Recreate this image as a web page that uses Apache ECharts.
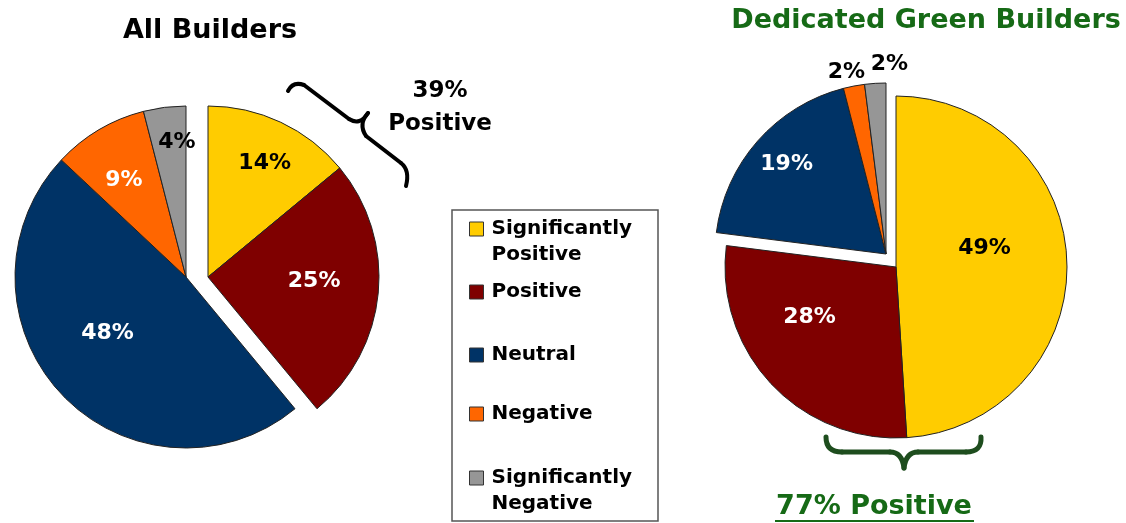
<!DOCTYPE html>
<html><head><meta charset="utf-8">
<script src="https://cdn.jsdelivr.net/npm/echarts@6/dist/echarts.min.js"></script>
<style>html,body{margin:0;padding:0;background:#fff}#c{width:1126px;height:523px}</style>
</head><body><div id="c"></div>
<script>
// ---- data ----
const categories = ['Significantly Positive', 'Positive', 'Neutral', 'Negative', 'Significantly Negative'];
const legendLabels = ['Significantly\nPositive', 'Positive', 'Neutral', 'Negative', 'Significantly\nNegative'];
const allBuilders = [14, 25, 48, 9, 4];
const greenBuilders = [49, 28, 19, 2, 2];
const allExploded = [0, 1];
const greenExploded = [2, 3, 4];
const titles = ['All Builders', 'Dedicated Green Builders'];
const noteAll = '39%\nPositive';
const noteGreen = '77% Positive';

// ---- styles ----
const FONT = 'DejaVu Sans';
const colors = ['#FFCC00', '#7F0000', '#003366', '#FF6600', '#969696'];
const labelColorsAll = ['#000', '#fff', '#fff', '#fff', '#000'];
const labelColorsGreen = ['#000', '#fff', '#fff', '#000', '#000'];
const labelShiftAll = [[19, -34], [18, -4], [-14, -4], [-17, -21], [2, -47]];
const labelShiftGreen = [[0, -16], [-22, -10], [-33, -31], [-23, -95], [9, -101]];
const R = 171;
const legendRowY = [229, 292, 355, 414, 478];
const green = '#166A16';

function pieSeries(values, group, inGroup, center, labelColors, shifts) {
  return {
    type: 'pie',
    silent: true,
    animation: false,
    startAngle: 90,
    clockwise: true,
    center: center,
    radius: [0, R],
    avoidLabelOverlap: false,
    emphasis: { disabled: true },
    labelLine: { show: false },
    label: {
      show: true, position: 'inside', formatter: '{c}%',
      fontFamily: FONT, fontWeight: 'bold', fontSize: 22
    },
    labelLayout: function (p) {
      const s = shifts[p.dataIndex];
      return { dx: s[0], dy: s[1] };
    },
    data: values.map(function (v, i) {
      const mine = (group.indexOf(i) >= 0) === inGroup;
      return mine ? {
        name: categories[i], value: v,
        itemStyle: { color: colors[i], borderColor: '#222', borderWidth: 1 },
        label: { color: labelColors[i] }
      } : {
        name: categories[i], value: v,
        itemStyle: { color: 'rgba(0,0,0,0)', borderWidth: 0 },
        label: { show: false }
      };
    })
  };
}

const series = [
  pieSeries(allBuilders, allExploded, false, [186, 277], labelColorsAll, labelShiftAll),
  pieSeries(allBuilders, allExploded, true, [208, 277], labelColorsAll, labelShiftAll),
  pieSeries(greenBuilders, greenExploded, false, [896, 267], labelColorsGreen, labelShiftGreen),
  pieSeries(greenBuilders, greenExploded, true, [886, 254], labelColorsGreen, labelShiftGreen)
];

const legends = categories.map(function (c, i) {
  const twoLine = legendLabels[i].indexOf('\n') >= 0;
  return {
    data: [{ name: c, icon: 'rect', itemStyle: { color: colors[i], borderColor: '#333', borderWidth: 1 } }],
    left: 469,
    top: legendRowY[i] - (twoLine ? 39 : 13),
    orient: 'vertical',
    padding: 0,
    itemWidth: 14,
    itemHeight: 14,
    selectedMode: false,
    formatter: function () { return (twoLine ? '\n' : '') + legendLabels[i]; },
    textStyle: {
      fontFamily: FONT, fontWeight: 'bold', fontSize: 20, color: '#000',
      lineHeight: 26, padding: [0, 0, 0, 3]
    }
  };
});

const option = {
  backgroundColor: '#fff',
  animation: false,
  title: [
    { text: titles[0], left: 210, top: 17, textAlign: 'center', padding: 0,
      textStyle: { fontFamily: FONT, fontWeight: 'bold', fontSize: 27, lineHeight: 27, color: '#000' } },
    { text: titles[1], left: 926, top: 7, textAlign: 'center', padding: 0,
      textStyle: { fontFamily: FONT, fontWeight: 'bold', fontSize: 27, lineHeight: 27, color: green } }
  ],
  legend: legends,
  series: series,
  graphic: [
    { type: 'rect', shape: { x: 452, y: 210, width: 206, height: 311 },
      style: { fill: 'none', stroke: '#555', lineWidth: 1.5 }, silent: true },
    { type: 'text', style: { text: noteAll, x: 440, y: 108, textAlign: 'center', textVerticalAlign: 'middle',
      font: 'bold 23px "DejaVu Sans"', lineHeight: 33, fill: '#000' }, silent: true },
    { type: 'text', style: { text: noteGreen, x: 874, y: 507, textAlign: 'center', textVerticalAlign: 'middle',
      font: 'bold 27px "DejaVu Sans"', fill: green }, silent: true },
    { type: 'line', shape: { x1: 775, y1: 521, x2: 974, y2: 521 }, style: { stroke: green, lineWidth: 2 }, silent: true },
    // black brace
    { type: 'group', silent: true, children: [
      { type: 'bezierCurve', shape: { x1: 288, y1: 91, cpx1: 293, cpy1: 81, x2: 304, y2: 85 } },
      { type: 'line', shape: { x1: 304, y1: 85, x2: 349, y2: 119 } },
      { type: 'bezierCurve', shape: { x1: 349, y1: 119, cpx1: 360, cpy1: 126, x2: 368, y2: 113 } },
      { type: 'bezierCurve', shape: { x1: 368, y1: 113, cpx1: 358, cpy1: 124, x2: 366, y2: 136 } },
      { type: 'line', shape: { x1: 366, y1: 136, x2: 401, y2: 163 } },
      { type: 'bezierCurve', shape: { x1: 401, y1: 163, cpx1: 410, cpy1: 170, x2: 406, y2: 186 } }
    ].map(function (e) { e.style = { fill: 'none', stroke: '#000', lineWidth: 4, lineCap: 'round' }; return e; }) },
    // green brace
    { type: 'group', silent: true, children: [
      { type: 'bezierCurve', shape: { x1: 826, y1: 437, cpx1: 826, cpy1: 452, x2: 842, y2: 452 } },
      { type: 'line', shape: { x1: 842, y1: 452, x2: 890, y2: 452 } },
      { type: 'bezierCurve', shape: { x1: 890, y1: 452, cpx1: 902, cpy1: 452, x2: 904, y2: 468 } },
      { type: 'bezierCurve', shape: { x1: 904, y1: 468, cpx1: 906, cpy1: 452, x2: 918, y2: 452 } },
      { type: 'line', shape: { x1: 918, y1: 452, x2: 966, y2: 452 } },
      { type: 'bezierCurve', shape: { x1: 966, y1: 452, cpx1: 982, cpy1: 452, x2: 981, y2: 437 } }
    ].map(function (e) { e.style = { fill: 'none', stroke: '#1E4D1E', lineWidth: 5, lineCap: 'round' }; return e; }) }
  ]
};

const chart = echarts.init(document.getElementById('c'), null, { renderer: 'canvas' });
chart.setOption(option);
</script>
</body></html>
